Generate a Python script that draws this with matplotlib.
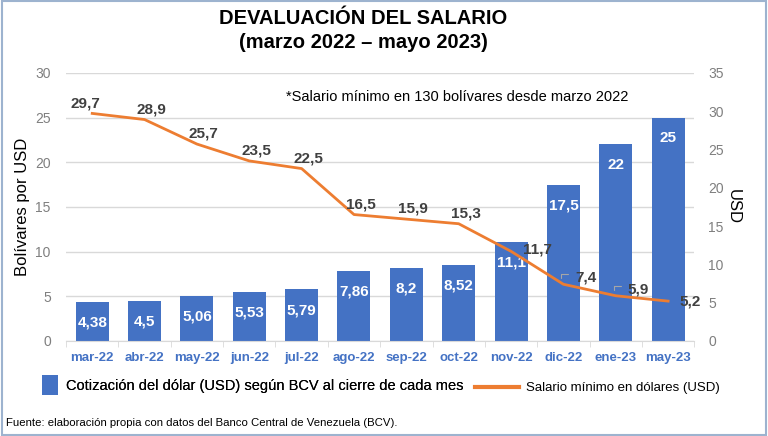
import matplotlib
matplotlib.use("Agg")
import matplotlib.pyplot as plt
from matplotlib import font_manager
from matplotlib.patches import Rectangle, Patch
from matplotlib.lines import Line2D

months = ["mar-22", "abr-22", "may-22", "jun-22", "jul-22", "ago-22",
          "sep-22", "oct-22", "nov-22", "dic-22", "ene-23", "may-23"]
dolar = [4.38, 4.5, 5.06, 5.53, 5.79, 7.86, 8.2, 8.52, 11.1, 17.5, 22, 25]
dolar_labels = ["4,38", "4,5", "5,06", "5,53", "5,79", "7,86", "8,2", "8,52",
                "11,1", "17,5", "22", "25"]
salario = [29.7, 28.9, 25.7, 23.5, 22.5, 16.5, 15.9, 15.3, 11.7, 7.4, 5.9, 5.2]
salario_labels = ["29,7", "28,9", "25,7", "23,5", "22,5", "16,5", "15,9",
                  "15,3", "11,7", "7,4", "5,9", "5,2"]
left_ticks = [0, 5, 10, 15, 20, 25, 30]
right_ticks = [0, 5, 10, 15, 20, 25, 30, 35]

names = {f.name for f in font_manager.fontManager.ttflist}
NARROW = "Liberation Sans Narrow" if "Liberation Sans Narrow" in names else "Liberation Sans"
plt.rcParams["font.family"] = ["Liberation Sans", "DejaVu Sans"]

BLUE = "#4472C4"
ORANGE = "#ED7D31"
GREY = "#7F7F7F"

fig = plt.figure(figsize=(7.68, 4.36), dpi=100)
fig.patches.append(Rectangle((0.002, 0.003), 0.996, 0.994, transform=fig.transFigure,
                             fill=False, edgecolor="#9DB3CF", linewidth=1.5))

ax = fig.add_axes([0.086, 0.218, 0.818, 0.615])
x = list(range(len(months)))
bars = ax.bar(x, dolar, width=0.63, color=BLUE, zorder=2)
ax.set_xlim(-0.5, len(months) - 0.5)
ax.set_ylim(0, 30)
ax.set_yticks(left_ticks)
ax.grid(axis="y", color="#D9D9D9", linewidth=1, zorder=0)
ax.set_axisbelow(True)
for s in ["top", "right", "left"]:
    ax.spines[s].set_visible(False)
ax.spines["bottom"].set_color("#D9D9D9")
ax.tick_params(axis="y", length=0, labelsize=10, labelcolor=GREY, pad=11)
ax.set_xticks(x)
ax.set_xticklabels(months, fontsize=9.5, fontweight="bold", color=BLUE)
ax.tick_params(axis="x", length=0, pad=8)
ax.set_xticks([i + 0.5 for i in range(-1, len(months))], minor=True)
ax.tick_params(axis="x", which="minor", length=4, color="#D9D9D9", direction="out")
ax.set_ylabel("Bolívares por USD", fontsize=12, labelpad=4)

for b, lab in zip(bars, dolar_labels):
    ax.annotate(lab, (b.get_x() + b.get_width() / 2, b.get_height()),
                xytext=(0, -15), textcoords="offset points", ha="center", va="center",
                color="white", fontweight="bold", fontsize=11, zorder=4)

ax2 = ax.twinx()
ax2.set_ylim(0, 35)
ax2.set_yticks(right_ticks)
for s in ["top", "right", "left", "bottom"]:
    ax2.spines[s].set_visible(False)
ax2.tick_params(axis="y", length=0, labelsize=10, labelcolor=GREY, pad=10)
ax2.set_ylabel("USD", fontsize=12, rotation=270, labelpad=12)
ax2.plot(x, salario, color=ORANGE, linewidth=2, zorder=3)

offsets = {0: (-5, 7), 8: (19, 1), 9: (16, 5), 10: (16, 4.5)}
for i, (v, lab) in enumerate(zip(salario, salario_labels)):
    dx, dy = offsets.get(i, (5, 7.5))
    ha = "center"
    if i == 11:
        ha = "left"
        dx, dy = 8, 0
    ax2.annotate(lab, (i, v), xytext=(dx, dy), textcoords="offset points",
                 ha=ha, va="center", color="#404040", fontweight="bold",
                 fontsize=11, zorder=5)
    if i in (9, 10):
        ax2.annotate("", (i - 0.04, v + 0.4), xytext=(dx - 9, dy),
                     textcoords="offset points",
                     arrowprops=dict(arrowstyle="-", color="#A6A6A6", lw=0.8,
                                     connectionstyle="angle,angleA=0,angleB=90,rad=0"))

fig.text(0.473, 0.958, "DEVALUACIÓN DEL SALARIO", ha="center", va="center",
         fontsize=14.5, fontweight="bold", family=NARROW)
fig.text(0.473, 0.903, "(marzo 2022 – mayo 2023)", ha="center", va="center",
         fontsize=14.5, fontweight="bold", family=NARROW)
fig.text(0.595, 0.778, "*Salario mínimo en 130 bolívares desde marzo 2022",
         ha="center", va="center", fontsize=10.5, family=NARROW)

leg1 = fig.legend(handles=[Patch(facecolor=BLUE)],
                  labels=["Cotización del dólar (USD) según BCV al cierre de cada mes"],
                  loc="center left", bbox_to_anchor=(0.038, 0.117), frameon=False,
                  fontsize=10.5, handlelength=1.1, handleheight=1.8, handletextpad=0.5)
leg2 = fig.legend(handles=[Line2D([0], [0], color=ORANGE, lw=3)],
                  labels=["Salario mínimo en dólares (USD)"],
                  loc="center left", bbox_to_anchor=(0.603, 0.11), frameon=False,
                  fontsize=9.5, handlelength=3.3, handletextpad=0.6)
fig.add_artist(leg1)

fig.text(0.008, 0.03, "Fuente: elaboración propia con datos del Banco Central de Venezuela (BCV).",
         ha="left", va="center", fontsize=8.2)

fig.savefig("out.png", dpi=100)
